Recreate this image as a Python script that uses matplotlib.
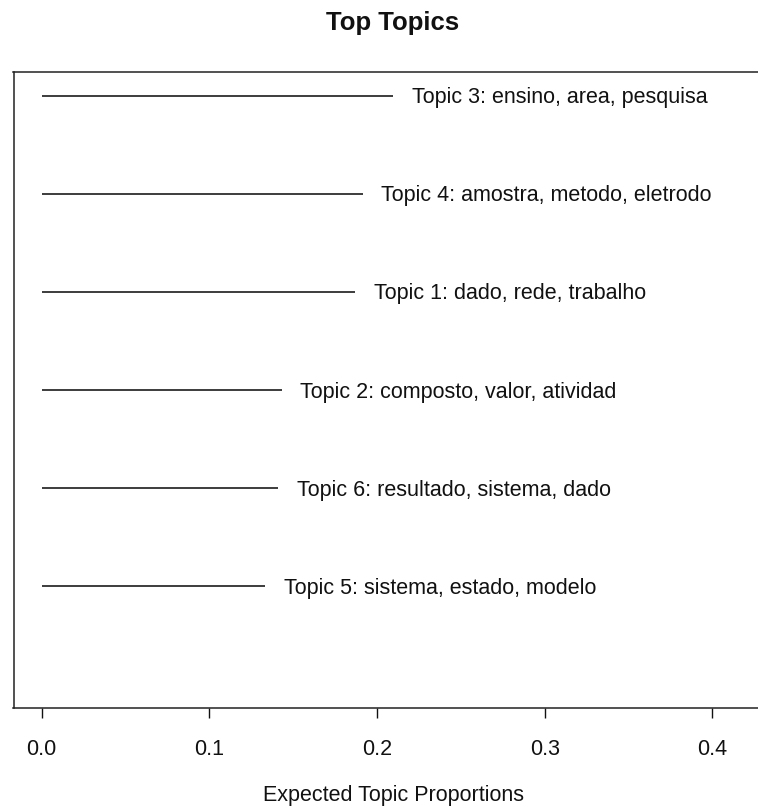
import matplotlib
matplotlib.use('Agg')
import matplotlib.pyplot as plt

plt.rcParams['font.family'] = ['Liberation Sans', 'DejaVu Sans']

# Expected topic proportions, ordered from largest to smallest
topic_labels = [
    "Topic 3: ensino, area, pesquisa",
    "Topic 4: amostra, metodo, eletrodo",
    "Topic 1: dado, rede, trabalho",
    "Topic 2: composto, valor, atividad",
    "Topic 6: resultado, sistema, dado",
    "Topic 5: sistema, estado, modelo",
]
proportions = [0.2096, 0.1914, 0.1868, 0.1431, 0.1410, 0.1331]
xticks = [0.0, 0.1, 0.2, 0.3, 0.4]

W, H = 758, 808
fig = plt.figure(figsize=(W / 100, H / 100), dpi=100)

# plot region in pixels (right edge runs slightly past the image)
left_px, right_px, top_px, bottom_px = 13.5, 774, 72, 708
ax = fig.add_axes([left_px / W, (H - bottom_px) / H,
                   (right_px - left_px) / W, (bottom_px - top_px) / H])

K = len(proportions)
xmax = 0.42
ax.set_xlim(-0.04 * xmax, 1.04 * xmax)
ax.set_ylim(-0.04 * K, 1.04 * K)

for i, (lab, p) in enumerate(zip(topic_labels, proportions)):
    y = K - i
    ax.plot([0, p], [y, y], color='#111111', lw=1.15, solid_capstyle='butt')
    ax.annotate(lab, xy=(p, y), xytext=(13.5, -1.5), textcoords='offset points',
                ha='left', va='center', fontsize=15.5, color='#111111')

ax.set_yticks([])
ax.set_xticks(xticks)
ax.set_xticklabels([f"{t:.1f}" for t in xticks])
ax.tick_params(axis='x', length=7.5, width=1.0, pad=15, labelsize=15.5,
               colors='#111111')
for s in ax.spines.values():
    s.set_color('#222222')
    s.set_linewidth(1.1)

ax.set_xlabel("Expected Topic Proportions", fontsize=15.5, labelpad=18,
              color='#111111')
fig.text(393 / W, 1 - 23 / H, "Top Topics", ha='center', va='center',
         fontsize=18.5, fontweight='bold', color='#111111')

fig.savefig('out.png', dpi=100, facecolor='white')
